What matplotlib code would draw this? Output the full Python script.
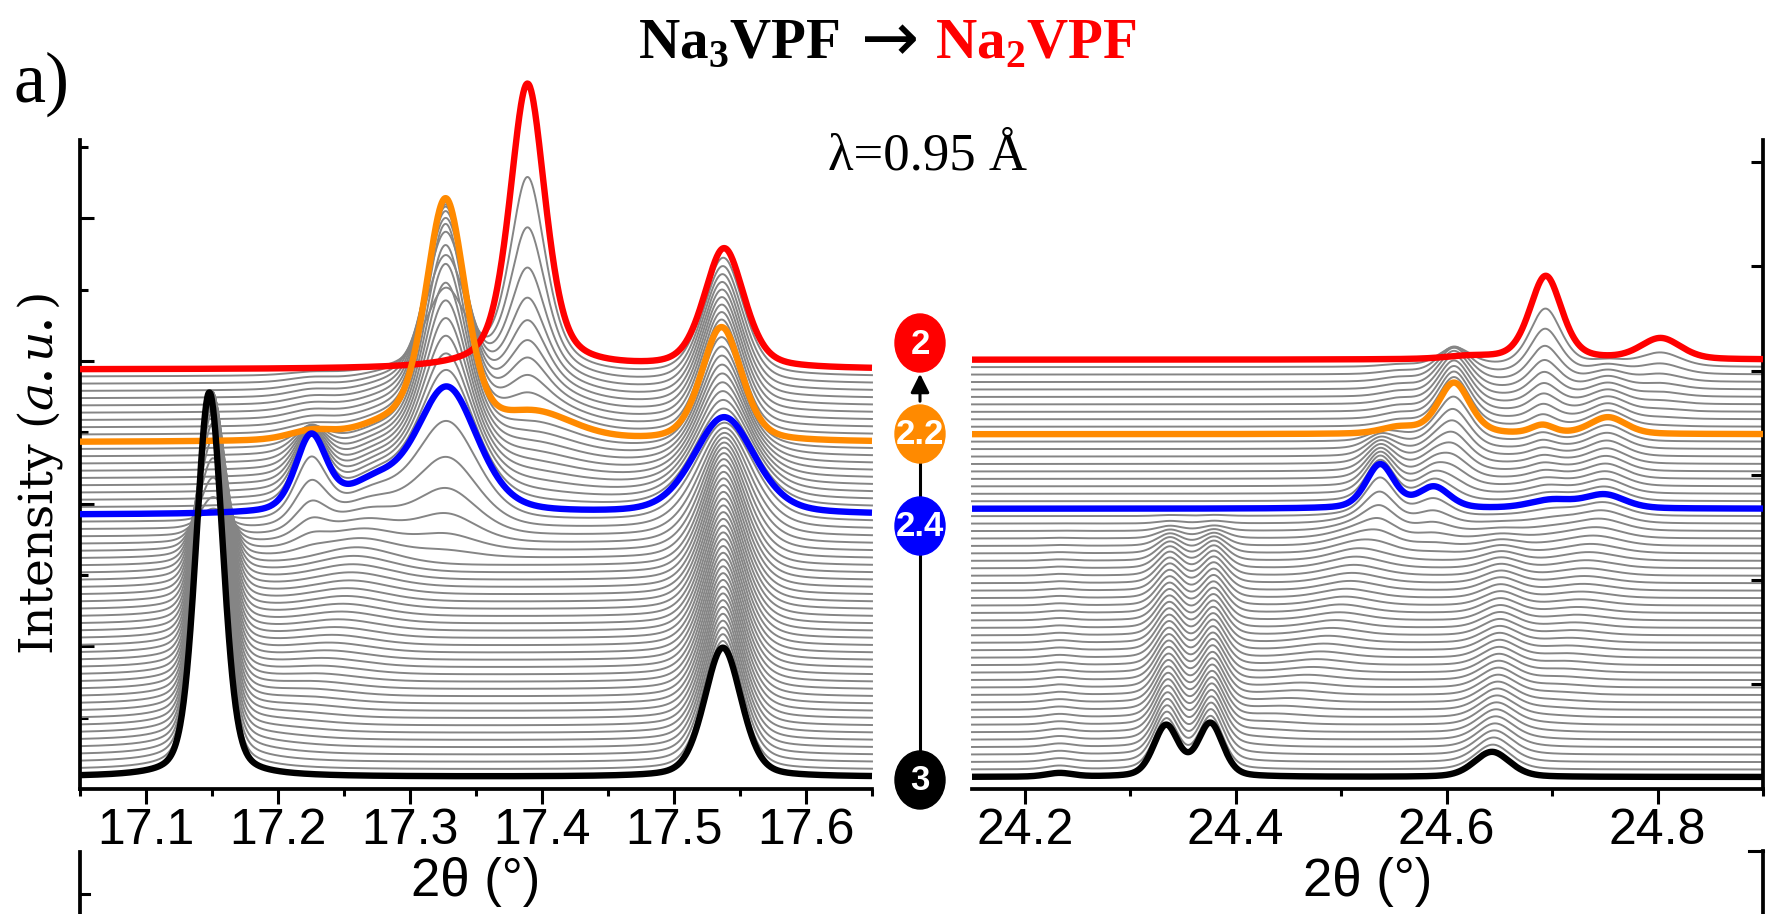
import numpy as np
import matplotlib.pyplot as plt
from matplotlib.patches import Ellipse

plt.rcParams['mathtext.fontset'] = 'custom'
plt.rcParams['mathtext.rm'] = 'Liberation Serif:bold'
plt.rcParams['mathtext.it'] = 'DejaVu Serif:italic'

SANS = ['Liberation Sans Narrow', 'Liberation Sans', 'DejaVu Sans']
SERIF = ['Liberation Serif', 'DejaVu Serif']

# phase weights for each of the 57 scans (scan 0 = 3 V ... scan 56 = 2 V)
na3_frac = [1.00, 0.98, 0.96, 0.94, 0.92, 0.905, 0.89, 0.87, 0.85, 0.83,
            0.81, 0.79, 0.775, 0.755, 0.735, 0.715, 0.70, 0.68, 0.66, 0.64,
            0.62, 0.60, 0.58, 0.56, 0.54, 0.52, 0.49, 0.46, 0.42, 0.37,
            0.31, 0.24, 0.17, 0.10, 0.05, 0.02, 0.0] + [0.0] * 20
ss_frac = [0.0, 0.02, 0.04, 0.06, 0.08, 0.095, 0.11, 0.13, 0.15, 0.17,
           0.19, 0.21, 0.225, 0.245, 0.265, 0.285, 0.30, 0.32, 0.34, 0.36,
           0.38, 0.40, 0.42, 0.44, 0.46, 0.48, 0.51, 0.54, 0.58, 0.63,
           0.64, 0.64, 0.61, 0.54, 0.40, 0.20, 0.0] + [0.0] * 20
ss_pos = [0.0, 0.08, 0.15, 0.21, 0.27, 0.32, 0.37, 0.41, 0.45, 0.49,
          0.53, 0.56, 0.59, 0.62, 0.65, 0.67, 0.69, 0.71, 0.73, 0.75,
          0.77, 0.79, 0.80, 0.82, 0.83, 0.85, 0.86, 0.87, 0.88, 0.90,
          0.91, 0.92, 0.93, 0.95, 0.96, 0.98, 1.0] + [1.0] * 20
blue_frac = [0.0] * 30 + [0.05, 0.12, 0.22, 0.36, 0.55, 0.78, 1.0] + \
            [0.92, 0.84, 0.75, 0.66, 0.57, 0.48, 0.38, 0.28, 0.16, 0.0] + [0.0] * 10
orange_frac = [0.0] * 37 + [0.08, 0.16, 0.25, 0.34, 0.43, 0.52, 0.62, 0.72, 0.84, 1.0] + \
              [0.96, 0.92, 0.88, 0.84, 0.79, 0.73, 0.64, 0.51, 0.34, 0.0]
red_frac = [0.0] * 47 + [0.04, 0.08, 0.12, 0.16, 0.21, 0.27, 0.36, 0.49, 0.66, 1.0]

# peaks: (2theta, height, fwhm, lorentz fraction, drift with ss_pos)
left_peaks = {
    'na3': [(17.148, 53.9, 0.024, 0.3, 0.003), (17.537, 18.1, 0.033, 0.3, 0.0)],
    'ss': [(17.17, 4.0, 0.07, 0.3, 0.10), (17.539, 14.5, 0.045, 0.3, 0.0)],
    'blue': [(17.225, 10.5, 0.028, 0.35, 0.0), (17.272, 3.6, 0.05, 0.35, 0.0),
             (17.328, 17.6, 0.055, 0.35, 0.0), (17.538, 13.6, 0.055, 0.35, 0.0)],
    'orange': [(17.225, 1.2, 0.04, 0.3, 0.0), (17.285, 2.0, 0.06, 0.3, 0.0),
               (17.327, 33.2, 0.036, 0.35, 0.0), (17.395, 3.6, 0.07, 0.3, 0.0),
               (17.536, 16.0, 0.036, 0.35, 0.0)],
    'red': [(17.389, 40.0, 0.032, 0.5, 0.0), (17.538, 16.8, 0.036, 0.4, 0.0)],
}
right_peaks = {
    'na3': [(24.233, 0.35, 0.03, 0.3, 0.0), (24.334, 4.85, 0.028, 0.3, 0.004),
            (24.376, 5.05, 0.028, 0.3, 0.004), (24.643, 2.4, 0.04, 0.3, 0.01)],
    'ss': [(24.36, 1.9, 0.06, 0.3, 0.175), (24.645, 1.3, 0.06, 0.3, 0.10)],
    'blue': [(24.537, 4.2, 0.032, 0.35, 0.0), (24.588, 2.0, 0.035, 0.3, 0.0),
             (24.70, 0.8, 0.05, 0.3, 0.0), (24.75, 1.3, 0.045, 0.3, 0.0)],
    'orange': [(24.555, 0.6, 0.04, 0.3, 0.0), (24.607, 4.9, 0.036, 0.35, 0.0),
               (24.691, 0.8, 0.025, 0.3, 0.0), (24.753, 1.6, 0.04, 0.3, 0.0)],
    'red': [(24.62, 0.25, 0.05, 0.3, 0.0), (24.694, 8.0, 0.036, 0.4, 0.0),
            (24.803, 2.0, 0.045, 0.3, 0.0)],
}

stage_scans = [0, 36, 46, 56]
stage_labels = ['3', '2.4', '2.2', '2']
stage_colors = ['#000000', '#0000ff', '#ff8a00', '#ff0000']

left_ticks = [17.1, 17.2, 17.3, 17.4, 17.5, 17.6]
right_ticks = [24.2, 24.4, 24.6, 24.8]


def pv(x, c, h, w, eta):
    u = (x - c) / w
    return h * (eta / (1 + 4 * u ** 2) + (1 - eta) * np.exp(-4 * np.log(2) * u ** 2))


def pattern(x, peaks, pos):
    return sum(pv(x, c + d * pos, h, w, e) for c, h, w, e, d in peaks)


def scan(x, peaks, i):
    y = na3_frac[i] * pattern(x, peaks['na3'], ss_pos[i])
    y = y + ss_frac[i] * pattern(x, peaks['ss'], ss_pos[i])
    y = y + blue_frac[i] * pattern(x, peaks['blue'], 0)
    y = y + orange_frac[i] * pattern(x, peaks['orange'], 0)
    y = y + red_frac[i] * pattern(x, peaks['red'], 0)
    return y


W, H = 1778, 914
fig = plt.figure(figsize=(W / 100, H / 100), dpi=100)


def px_box(x0, x1, y0, y1):
    return [x0 / W, 1 - y1 / H, (x1 - x0) / W, (y1 - y0) / H]


ax_l = fig.add_axes(px_box(80, 872, 140, 789))
ax_r = fig.add_axes(px_box(972, 1763, 140, 789))

panels = [(ax_l, np.linspace(17.05, 17.65, 1400), left_peaks, 1.7, 1.02),
          (ax_r, np.linspace(24.15, 24.9, 1600), right_peaks, 1.15, 0.713)]

n_scans = len(na3_frac)
for ax, x, peaks, base, step in panels:
    for i in range(n_scans):
        if i in stage_scans:
            continue
        ax.plot(x, base + step * i + scan(x, peaks, i), color='#858585', lw=1.4,
                zorder=2, clip_on=False)
    for k in [3, 2, 1, 0]:
        i = stage_scans[k]
        ax.plot(x, base + step * i + scan(x, peaks, i), color=stage_colors[k],
                lw=4.6, zorder=3 + (3 - k), solid_capstyle='butt', clip_on=False)

# left panel axes
ax_l.set_xlim(17.05, 17.65)
ax_l.set_ylim(0, 91.0)
ax_l.set_xticks(left_ticks)
ax_l.set_xticklabels([f'{v:.1f}' for v in left_ticks])
ax_l.set_xticks(np.arange(17.05, 17.66, 0.1), minor=True)
ax_l.set_yticks([20, 40, 60, 80])
ax_l.set_yticks([10, 30, 50, 70, 90], minor=True)
ax_l.tick_params(axis='y', which='both', direction='in', width=2.2, labelleft=False)
ax_l.tick_params(axis='y', which='major', length=10)
ax_l.tick_params(axis='y', which='minor', length=6)
for s in ['top', 'right']:
    ax_l.spines[s].set_visible(False)
for s in ['left', 'bottom']:
    ax_l.spines[s].set_linewidth(2.7)

# right panel axes
ax_r.set_xlim(24.15, 24.9)
ax_r.set_ylim(0, 62.1)
ax_r.set_xticks(right_ticks)
ax_r.set_xticklabels([f'{v:.1f}' for v in right_ticks])
ax_r.set_xticks([24.3, 24.5, 24.7, 24.9], minor=True)
ax_r.yaxis.tick_right()
ax_r.set_yticks([10, 20, 30, 40, 50, 60])
ax_r.tick_params(axis='y', which='both', direction='in', length=9, width=2.2, labelright=False)
for s in ['top', 'left']:
    ax_r.spines[s].set_visible(False)
for s in ['right', 'bottom']:
    ax_r.spines[s].set_linewidth(2.7)

for ax in (ax_l, ax_r):
    ax.tick_params(axis='x', which='both', direction='out', width=2.2, pad=3, labelsize=36)
    ax.tick_params(axis='x', which='major', length=11)
    ax.tick_params(axis='x', which='minor', length=5)
    for t in ax.get_xticklabels():
        t.set_fontfamily(SANS)
    ax.set_xlabel('2θ (°)', fontsize=38, family=SANS, labelpad=2)

# overlay in pixel coordinates for labels and the voltage markers
ov = fig.add_axes([0, 0, 1, 1])
ov.set_xlim(0, W)
ov.set_ylim(H, 0)
ov.axis('off')

ov.text(14, 84, 'a)', fontsize=52, family=SERIF, ha='left', va='center')
ov.text(840, 58, 'Na$_3$VPF', fontsize=41, family=SERIF, weight='bold',
        ha='right', va='baseline', color='black')
ov.text(890, 42, '→', fontsize=50, family=['DejaVu Sans'],
        ha='center', va='center', color='black')
ov.text(935, 58, 'Na$_2$VPF', fontsize=41, family=SERIF, weight='bold',
        ha='left', va='baseline', color='#ff0000')
ov.text(928, 170, 'λ=0.95 Å', fontsize=38, family=SERIF, ha='center', va='baseline')
ov.text(40, 474, 'Intensity ($\\mathit{a.u.}$)', fontsize=34, family=['DejaVu Serif'],
        rotation=90, ha='center', va='center')

marker_y = [780, 526, 434, 343]
ov.plot([920, 920], [752, 556], color='black', lw=2.2)
ov.plot([920, 920], [496, 464], color='black', lw=2.2)
ov.annotate('', xy=(920, 371), xytext=(920, 404),
            arrowprops=dict(arrowstyle='-|>', color='black', lw=2.2, mutation_scale=28))
for lab, col, yy in zip(stage_labels, stage_colors, marker_y):
    ov.add_patch(Ellipse((920, yy), 50, 58, color=col, zorder=5))
    ov.text(920, yy + 1, lab, color='white', fontsize=25, weight='bold', family=SANS,
            ha='center', va='center', zorder=6)

# fragments of the next panel at the bottom edge
ov.plot([80, 80], [852, 914], color='black', lw=2.7)
ov.plot([80, 89], [894, 894], color='black', lw=2.2)
ov.plot([1763, 1763], [851, 914], color='black', lw=2.7)
ov.plot([1749, 1763], [851, 851], color='black', lw=2.2)

fig.savefig('out.png', dpi=100)
